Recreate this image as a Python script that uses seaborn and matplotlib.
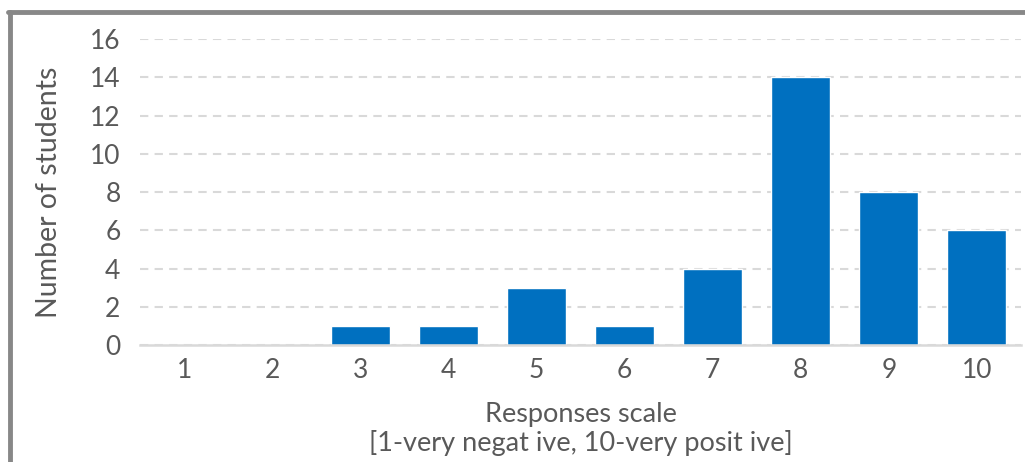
import matplotlib
matplotlib.use("Agg")
import matplotlib.pyplot as plt
import seaborn as sns
from matplotlib.lines import Line2D

# survey responses: scale value -> number of students
scale_values = ["1", "2", "3", "4", "5", "6", "7", "8", "9", "10"]
student_counts = [0, 0, 1, 1, 3, 1, 4, 14, 8, 6]
y_ticks = [0, 2, 4, 6, 8, 10, 12, 14, 16]

sns.set_theme(style="white")
plt.rcParams['font.family'] = ['Lato', 'DejaVu Sans']
text_grey = '#595959'

fig = plt.figure(figsize=(10.25, 4.62), dpi=100)
ax = fig.add_axes([0.1366, 0.2532, 0.8594, 0.6624])

sns.barplot(x=scale_values, y=student_counts, color='#0070C0', saturation=1,
            width=0.67, ax=ax, zorder=3)

ax.set_ylim(0, 16)
ax.set_xlim(-0.5, 9.5)
ax.set_yticks(y_ticks)
ax.yaxis.grid(True, linestyle=(0, (4, 3)), color='#d9d9d9', linewidth=1.5, zorder=0)
ax.xaxis.grid(False)
for side in ['top', 'right', 'left']:
    ax.spines[side].set_visible(False)
ax.spines['bottom'].set_color('#d9d9d9')
ax.spines['bottom'].set_linewidth(1.8)
ax.spines['bottom'].set_zorder(4)
ax.tick_params(axis='both', length=0, labelsize=19, colors=text_grey)
ax.tick_params(axis='y', pad=14)
ax.tick_params(axis='x', pad=9)

ax.set_xlabel('Responses scale\n[1-very negat ive, 10-very posit ive]',
              fontsize=19.5, color=text_grey, labelpad=14, linespacing=1.15)
ax.set_ylabel('Number of students', fontsize=20.5, color=text_grey, labelpad=20)

# grey frame on left and top edge of the chart
fig.add_artist(Line2D([10 / 1025, 10 / 1025], [0, 1 - 12 / 462], transform=fig.transFigure,
                      color='#888888', linewidth=3.5))
fig.add_artist(Line2D([8 / 1025, 1], [1 - 12 / 462, 1 - 12 / 462], transform=fig.transFigure,
                      color='#888888', linewidth=3.5))

fig.savefig('out.png', dpi=100)
